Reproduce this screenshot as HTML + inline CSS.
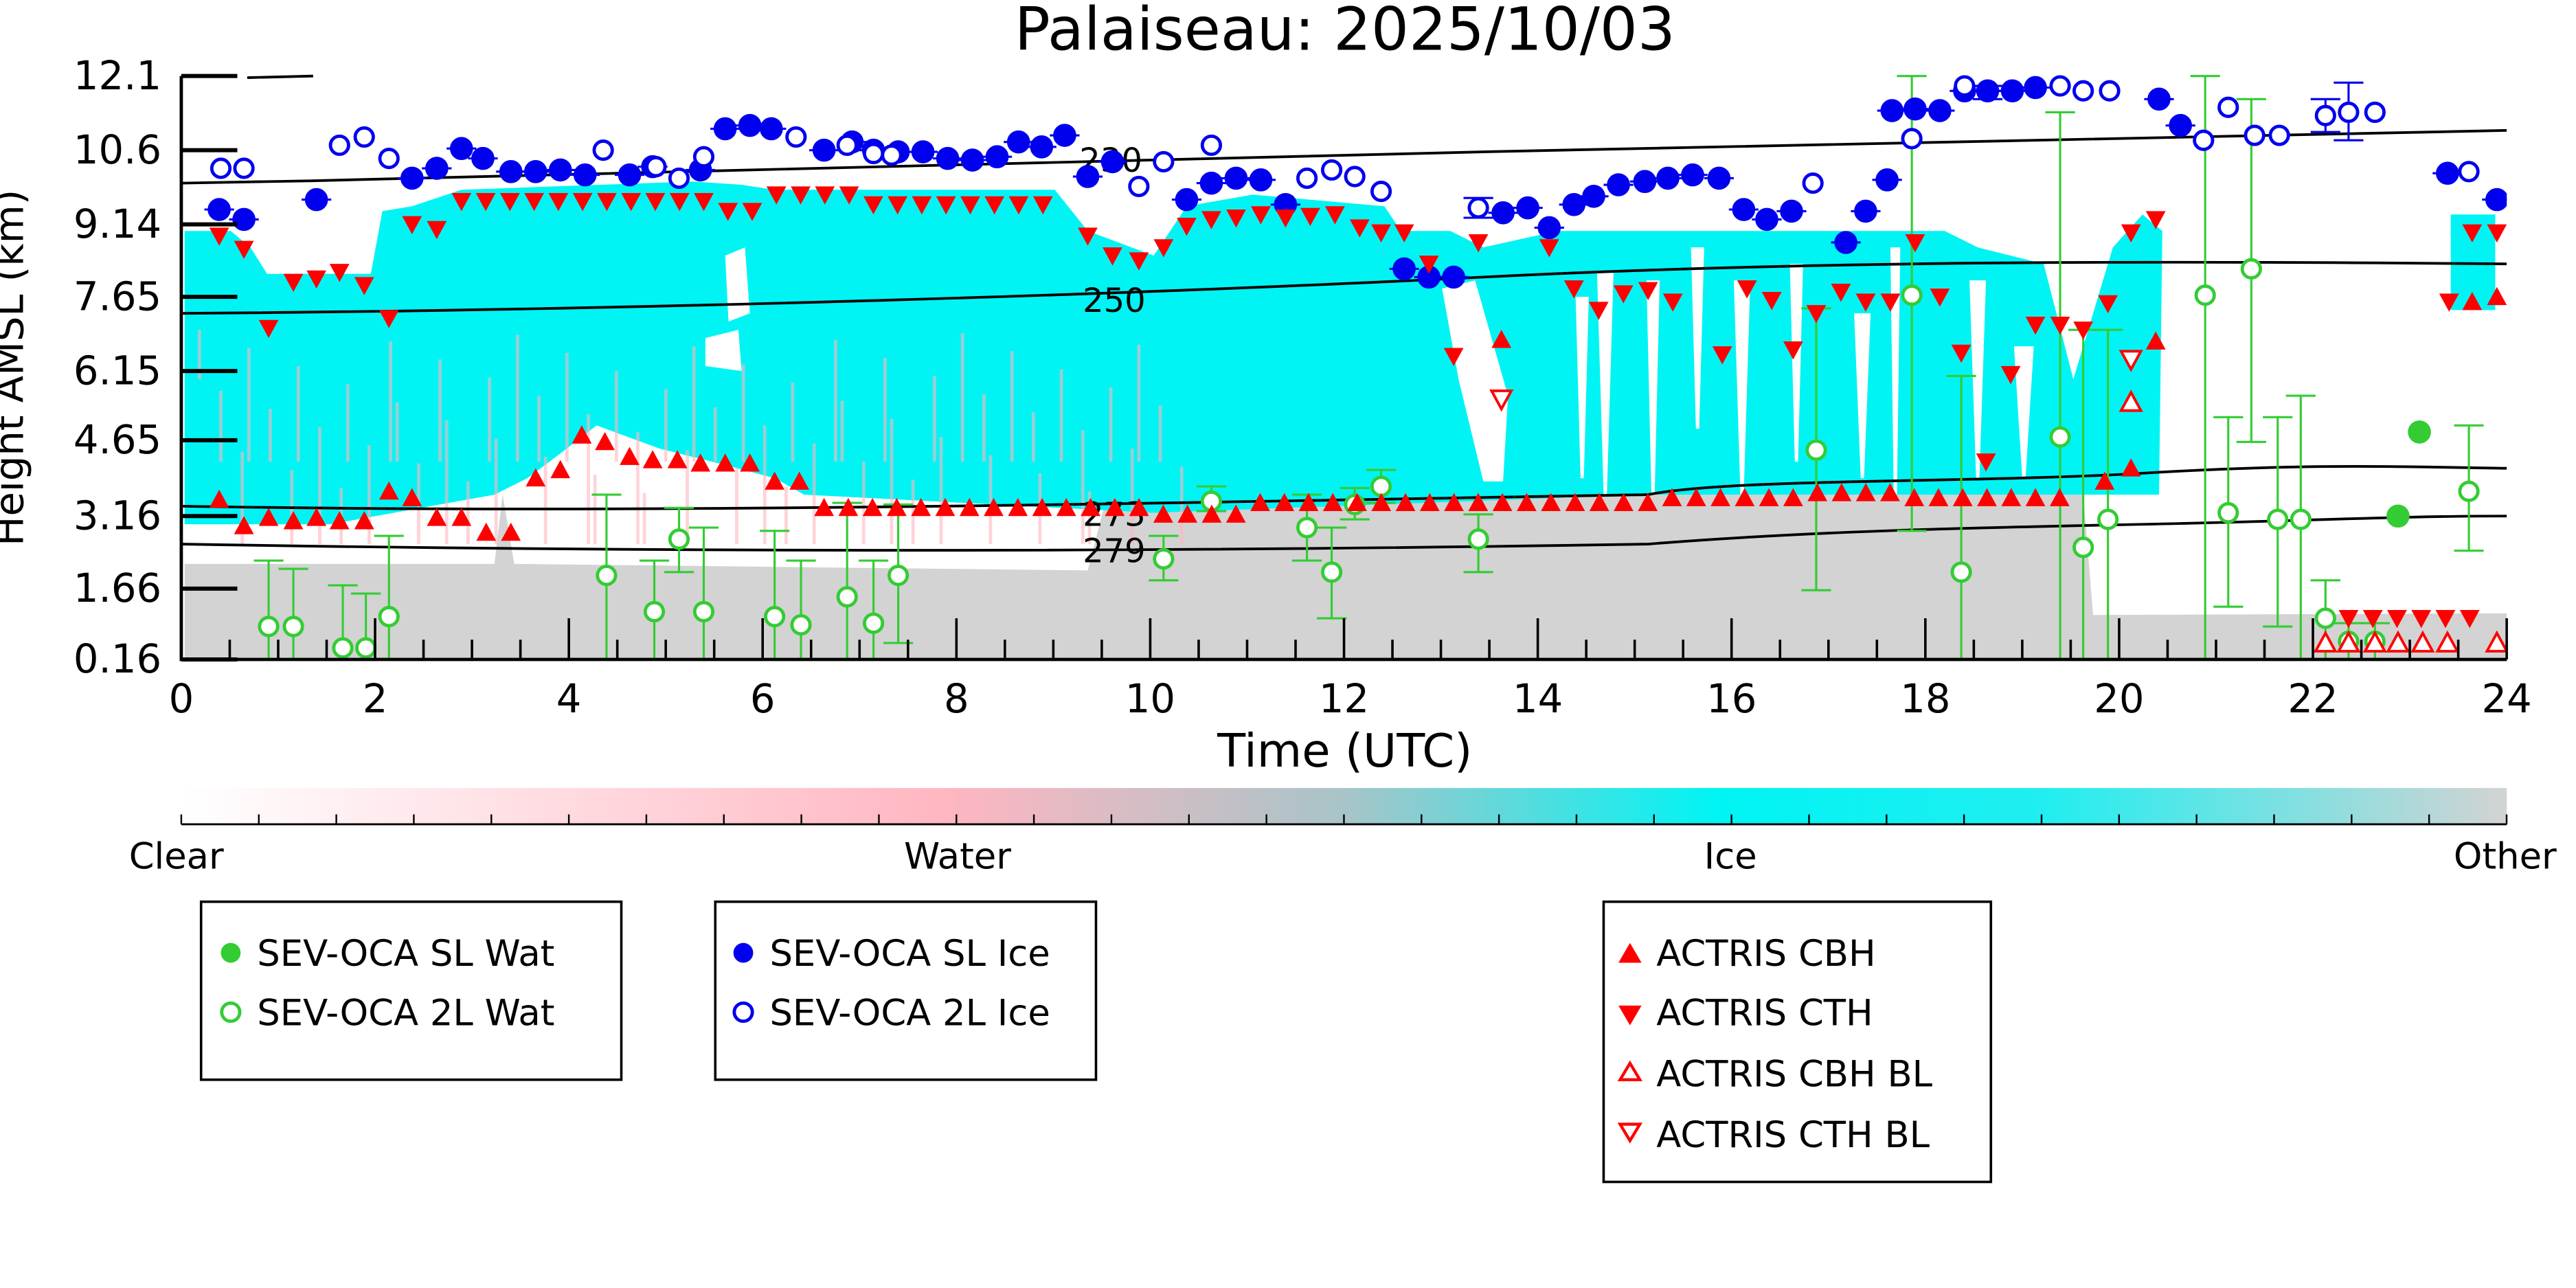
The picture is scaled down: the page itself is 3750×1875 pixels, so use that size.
<!DOCTYPE html>
<html><head><meta charset="utf-8"><style>
html,body{margin:0;padding:0;background:#fff}
svg{display:block}
text{font-family:"DejaVu Sans","Liberation Sans",sans-serif;fill:#000}
</style></head><body>
<svg id="s" width="3750" height="1875" viewBox="0 0 1563 781.25" xmlns="http://www.w3.org/2000/svg">
<defs>
<linearGradient id="cb" x1="0" x2="1" y1="0" y2="0">
<stop offset="0" stop-color="#ffffff"/><stop offset="0.33" stop-color="#ffb6c1"/>
<stop offset="0.5" stop-color="#a8c4c8"/><stop offset="0.66" stop-color="#00f4f4"/>
<stop offset="0.8" stop-color="#20eef0"/><stop offset="1" stop-color="#d3d3d3"/></linearGradient>
<clipPath id="pc"><rect x="110" y="40" width="1411" height="360"/></clipPath>
</defs>
<text x="816" y="30" font-size="36" text-anchor="middle">Palaiseau: 2025/10/03</text>
<g clip-path="url(#pc)">
<!-- gray -->
<path fill="#d3d3d3" d="M112,400 L112,342 L300,342 L305,300 L312,342 L660,346 L670,307 L1000,300 L1264,299 L1270,373 L1521,372 L1521,400 Z"/>
<!-- cyan -->
<path fill="#00f4f4" d="M112,140 L140,140 L152,150 L162,166 L225,166 L232,128 L250,125 L280,115 L420,110 L450,112 L470,115 L640,115 L660,140 L700,155 L720,125 L760,118 L840,125 L850,140 L880,140 L900,150 L945,140 L1000,140 L1180,140 L1200,150 L1240,160 L1258,230 L1282,150 L1300,130 L1312,140 L1310,300 L1000,300 L700,311 L488,300 L470,290 L440,282 L400,272 L362,258 L340,275 L320,290 L300,300 L200,318 L112,318 Z"/>
<path fill="#00f4f4" d="M1487,130 L1514,130 L1514,188 L1487,188 Z"/>
<path fill="#fff" d="M428,205 L448,200 L450,225 L428,222 Z M440,155 L452,150 L455,190 L442,195 Z M875,175 L895,170 L915,240 L912,292 L900,292 L885,230 Z"/>
<g fill="#fff" id="gaps"></g>
<g fill="#ffb6c1" opacity="0.6" id="pinks"></g>
<!-- contours -->
<g fill="none" stroke="#000" stroke-width="1.6">
<path d="M110,111 C400,106 700,98 900,92 S1300,82 1521,79"/>
<path d="M110,190 C400,188 700,178 900,168 S1300,158 1521,160"/>
<path d="M110,307 C400,312 700,305 1000,300 C1050,290 1200,293 1300,287 S1450,283 1521,284"/>
<path d="M110,330 C400,335 700,335 1000,330 C1100,322 1200,320 1300,318 S1450,313 1521,313"/>
<path d="M150,47 L190,46"/>
</g>
<g font-size="20" text-anchor="middle">
<text x="674" y="104">230</text><text x="676" y="189">250</text>
<text x="676" y="319">273</text><text x="676" y="341">279</text>
</g>
<g id="m"></g>
</g>
<!-- axes -->
<path d="M110,46 L110,400 L1521,400" fill="none" stroke="#000" stroke-width="2"/>
<g id="ax" stroke="#000" stroke-width="1.5"></g>
<g font-size="24" text-anchor="end" id="yl"></g>
<g font-size="24" text-anchor="middle" id="xl"></g>
<text x="816" y="465" font-size="28" text-anchor="middle">Time (UTC)</text>
<text transform="translate(14,223) rotate(-90)" font-size="24" text-anchor="middle">Height AMSL (km)</text>
<!-- colorbar -->
<rect x="110" y="478" width="1411" height="22" fill="url(#cb)"/>
<line x1="110" y1="500" x2="1521" y2="500" stroke="#000" stroke-width="1.2"/>
<g id="cbt" stroke="#000" stroke-width="1"></g>
<g font-size="22" text-anchor="middle"><text x="107" y="527">Clear</text><text x="581" y="527">Water</text><text x="1050" y="527">Ice</text><text x="1520" y="527">Other</text></g>
<!-- legends -->
<g stroke="#000" stroke-width="1.5" fill="none">
<rect x="122" y="547" width="255" height="108"/><rect x="434" y="547" width="231" height="108"/><rect x="973" y="547" width="235" height="170"/></g>
<g font-size="22">
<circle cx="140" cy="578" r="6" fill="#33cc33"/><text x="156" y="586">SEV-OCA SL Wat</text>
<circle cx="140" cy="614" r="5.5" fill="#fff" stroke="#33cc33" stroke-width="2"/><text x="156" y="622">SEV-OCA 2L Wat</text>
<circle cx="451" cy="578" r="6" fill="#0000ee"/><text x="467" y="586">SEV-OCA SL Ice</text>
<circle cx="451" cy="614" r="5.5" fill="#fff" stroke="#0000ee" stroke-width="2"/><text x="467" y="622">SEV-OCA 2L Ice</text>
<path d="M982,584 L996,584 L989,572 Z" fill="#f00"/><text x="1005" y="586">ACTRIS CBH</text>
<path d="M982,610 L996,610 L989,622 Z" fill="#f00"/><text x="1005" y="622">ACTRIS CTH</text>
<path d="M983,655 L995,655 L989,645 Z" fill="none" stroke="#f00" stroke-width="1.8"/><text x="1005" y="659">ACTRIS CBH BL</text>
<path d="M983,682 L995,682 L989,692 Z" fill="none" stroke="#f00" stroke-width="1.8"/><text x="1005" y="696">ACTRIS CTH BL</text>
</g>
</svg>
<script>
const NS="http://www.w3.org/2000/svg";
function el(p,t,a){const e=document.createElementNS(NS,t);for(const k in a)e.setAttribute(k,a[k]);p.appendChild(e);return e;}
const ax=document.getElementById('ax'),yl=document.getElementById('yl'),xl=document.getElementById('xl');
const ys=[["12.1",46],["10.6",91],["9.14",136],["7.65",180],["6.15",225],["4.65",267],["3.16",313],["1.66",357],["0.16",400]];
ys.forEach(([t,y])=>{el(yl,'text',{x:98,y:y+8}).textContent=t;el(ax,'line',{x1:110,x2:144,y1:y,y2:y,'stroke-width':2.5});});
for(let k=0;k<=48;k++){const x=110+k*29.395;el(ax,'line',{x1:x,x2:x,y1:400,y2:k%4?388:375});}
for(let h=0;h<=24;h+=2){el(xl,'text',{x:110+h*58.79,y:432}).textContent=h;}
const cbt=document.getElementById('cbt');for(let i=0;i<=30;i++){const x=110+i*47.03;el(cbt,'line',{x1:x,x2:x,y1:500,y2:494});}
const gp=document.getElementById('gaps');
[[974,165,300,5],[1003,170,300,4],[1030,150,260,4],[1057,170,300,5],[1090,160,280,4],[1130,190,290,5],[1150,150,300,3],[1200,170,290,5],[1228,210,290,6],[960,180,290,4]].forEach(([x,y1,y2,w])=>el(gp,'path',{d:`M${x-w},${y1} L${x+w},${y1} L${x+1},${y2} L${x-1},${y2} Z`}));
const pk=document.getElementById('pinks');for(let i=0;i<60;i++){el(pk,'rect',{x:120+i*10+(i%3)*3,y:200+(i*37)%100,width:2,height:30+(i*13)%50});}
const m=document.getElementById('m');
function circ(x,y,f,c){el(m,'circle',{cx:x,cy:y,r:f?6:5.5,fill:f?c:'#fff',stroke:c,'stroke-width':2});}
function err(x,y1,y2,c){el(m,'line',{x1:x,x2:x,y1,y2,stroke:c,'stroke-width':1.3});[y1,y2].forEach(y=>el(m,'line',{x1:x-9,x2:x+9,y1:y,y2:y,stroke:c,'stroke-width':1.3}));}
function tri(x,y,up,fill){const d=up?`M${x-6},${y+5} L${x+6},${y+5} L${x},${y-6} Z`:`M${x-6},${y-5} L${x+6},${y-5} L${x},${y+6} Z`;el(m,'path',{d,fill:fill?'#f00':'#fff',stroke:'#f00','stroke-width':fill?0:1.6});}
const B='#0000ee',G='#33cc33';
const bf=[[133,127],[148,133],[192,121],[250,108],[265,102],[280,90],[293,96],[310,104],[325,104],[340,103],[355,106],[382,106],[396,101],[425,103],[440,78],[455,76],[468,78],[500,91],[517,86],[530,91],[545,92],[560,92],[575,96],[590,97],[605,95],[618,86],[632,89],[646,82],[660,107],[675,98],[720,121],[735,111],[750,108],[765,109],[780,124],[852,163],[867,168],[882,168],[912,129],[927,126],[940,138],[955,124],[967,119],[982,112],[998,110],[1012,108],[1027,106],[1043,108],[1058,127],[1072,133],[1087,128],[1120,147],[1132,128],[1145,109],[1148,67],[1162,66],[1177,67],[1192,55],[1206,55],[1221,55],[1235,53],[1310,60],[1323,76],[1485,105],[1515,121]];
const bo=[[134,102],[148,102],[206,88],[221,83],[236,96],[366,91],[398,101],[412,108],[427,95],[483,83],[514,88],[530,93],[541,94],[691,113],[706,98],[735,88],[793,108],[808,103],[822,107],[838,116],[897,126],[1100,111],[1160,84],[1192,52],[1250,52],[1264,55],[1280,55],[1337,85],[1352,65],[1368,82],[1383,82],[1411,70],[1425,68],[1441,68],[1498,104]];
const go=[[163,380,340,400],[178,380,345,400],[208,393,355,400],[222,393,360,400],[236,374,325,400],[368,349,300,400],[397,371,340,400],[412,327,308,347],[427,371,320,400],[470,374,322,400],[486,379,340,400],[514,362,305,400],[530,378,340,400],[545,349,306,390],[706,339,325,352],[735,304,295,310],[793,320,300,340],[808,347,320,375],[822,306,296,315],[838,295,285,305],[897,327,312,347],[1102,273,187,358],[1160,179,46,322],[1190,347,228,400],[1250,265,68,400],[1264,332,200,400],[1279,315,200,400],[1338,179,46,400],[1352,311,253,368],[1366,163,60,268],[1382,315,253,380],[1396,315,240,400],[1411,375,352,400],[1425,389,378,400],[1441,389,378,400],[1498,298,258,334]];
go.forEach(([x,y,a,b])=>{err(x,a,b,G);});
bf.forEach(([x,y])=>{el(m,'line',{x1:x-9,x2:x+9,y1:y,y2:y,stroke:B,'stroke-width':1.3});});
[[897,120,132],[1206,52,60],[1411,60,80],[1425,50,85]].forEach(([x,a,b])=>err(x,a,b,B));
go.forEach(([x,y])=>circ(x,y,0,G));
circ(1468,262,1,G);circ(1455,313,1,G);
bf.forEach(([x,y])=>circ(x,y,1,B));bo.forEach(([x,y])=>circ(x,y,0,B));
const cbh=[[133,303],[148,319],[163,314],[178,316],[192,314],[206,316],[221,316],[236,298],[250,302],[265,314],[280,314],[295,323],[310,323],[325,290],[340,285],[353,264],[367,268],[382,277],[396,279],[411,279],[425,281],[440,281],[455,281],[470,292],[485,292]];
for(let x=500;x<=1262;x+=14.7){const y=x<700?308:(x<760?312:(x<1000?305:(x<1100?302:(x<1150?299:302))));cbh.push([x,y]);}
cbh.push([911,206],[1308,207],[1293,284],[1277,292],[1515,180],[1500,183]);
cbh.forEach(([x,y])=>tri(x,y,1,1));
const cth=[[133,143],[148,151],[163,199],[178,171],[192,169],[206,165],[221,173],[236,193],[250,136],[265,139]];
for(let x=280;x<=645;x+=14.7)cth.push([x,x<440?122:(x<460?128:(x<520?118:124))]);
cth.push([660,143],[675,155],[691,158],[706,150],[720,137],[735,133],[750,132],[765,130],[780,132],[795,131],[810,130],[825,138],[838,141],[852,141],[867,160],[882,216],[897,147],[940,150],[955,175],[970,188],[985,178],[1000,176],[1015,183],[1045,215],[1060,175],[1075,182],[1088,212],[1102,190],[1117,177],[1132,183],[1147,183],[1162,147],[1177,180],[1190,214],[1205,280],[1220,227],[1235,197],[1250,197],[1264,200],[1279,184],[1293,141],[1308,133],[1486,183],[1500,141],[1515,141]);
cth.forEach(([x,y])=>tri(x,y,0,1));
tri(911,242,0,0);tri(1293,218,0,0);tri(1293,244,1,0);
for(let x=1425;x<=1500;x+=14.7)tri(x,375,0,1);
[1411,1425,1441,1455,1470,1485,1515].forEach(x=>tri(x,390,1,0));
</script>
</body></html>
